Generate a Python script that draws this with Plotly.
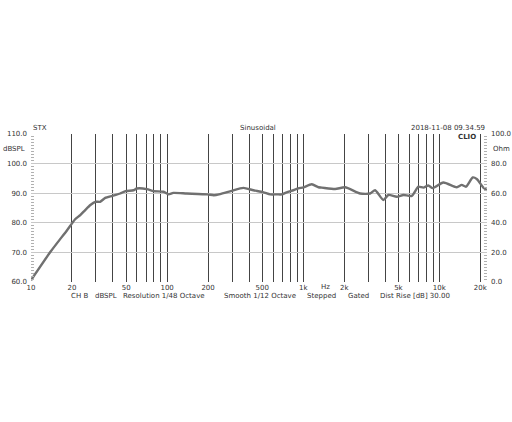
import numpy as np
import plotly.graph_objects as go

# frequency response
freq_hz = [10, 13.9, 18.4, 20, 21.1, 23.0, 25.0, 27.3, 29.7, 32.2, 35.1, 39.7,
           45.2, 49.5, 56.6, 59.9, 71, 79.4, 94.1, 102.5, 111, 139.5, 198, 220,
           245, 298, 363, 430, 510, 572, 640, 697, 756, 848, 920, 1004, 1155,
           1294, 1370, 1716, 2030, 2618, 3100, 3373, 3880, 4226, 4866, 5444,
           6270, 7014, 7633, 8303, 8944, 10700, 13420, 14600, 15700, 17580,
           18820, 21050, 22390]
spl_db = [60.6, 70.2, 77.5, 79.8, 81.2, 82.6, 84.3, 86.0, 87.1, 87.1, 88.4, 89.1,
          89.9, 90.7, 91.0, 91.6, 91.4, 90.7, 90.5, 89.6, 90.1, 89.9, 89.6, 89.3,
          89.7, 90.8, 91.8, 91.0, 90.3, 89.6, 89.6, 89.6, 90.3, 91.0, 91.6, 92.0,
          93.0, 92.0, 91.9, 91.4, 92.0, 89.9, 89.9, 91.0, 87.7, 89.4, 88.8, 89.4,
          89.1, 92.2, 91.9, 92.6, 91.7, 93.6, 92.0, 92.8, 92.2, 95.3, 94.8, 91.9,
          91.0]

grid_freqs = [m * d for d in (10, 100, 1000, 10000) for m in range(1, 10)]
grid_freqs = [f for f in grid_freqs if f <= 20000]
labels = {10: "10", 20: "20", 50: "50", 100: "100", 200: "200", 500: "500",
          1000: "1k", 2000: "2k", 5000: "5k", 10000: "10k", 20000: "20k"}
grid_text = [labels.get(f, "") for f in grid_freqs]

footer_items = ["CH B", "dBSPL", "Resolution 1/48 Octave", "Smooth 1/12 Octave",
                "Stepped", "Gated", "Dist Rise [dB] 30.00"]
footer_px = [69, 93, 121, 222, 305, 346, 378]

FONT = "DejaVu Sans"
FS = 7
TXT = "#333333"
# plot box in pixels
PL, PR, PT, PB = 31, 487, 134, 282
W, H = 512, 422

fig = go.Figure()
fig.add_trace(go.Scatter(x=freq_hz, y=spl_db, mode="lines",
                         line=dict(color="#707070", width=2.4, shape="spline", smoothing=0.6),
                         showlegend=False, hoverinfo="skip"))
fig.add_trace(go.Scatter(x=[], y=[], yaxis="y2", showlegend=False, hoverinfo="skip"))

fig.update_layout(
    width=W, height=H,
    margin=dict(l=PL, r=W - PR, t=PT, b=H - PB, pad=0),
    paper_bgcolor="white", plot_bgcolor="white",
    font=dict(family=FONT, size=FS, color=TXT),
    xaxis=dict(type="log", range=[1, np.log10(22390)], automargin=False,
               tickmode="array", tickvals=grid_freqs, ticktext=grid_text,
               showgrid=True, gridcolor="#444444", gridwidth=1,
               ticks="", showline=False, zeroline=False, ticklabelstandoff=0),
    yaxis=dict(range=[60, 110], dtick=10, tickformat=".1f", automargin=False,
               showgrid=True, gridcolor="#c8c8c8", gridwidth=1,
               ticks="", showline=False, zeroline=False, ticklabelstandoff=3,
               minor=dict(dtick=1, ticks="inside", ticklen=3, tickcolor="#b0b0b0",
                          showgrid=False)),
    yaxis2=dict(range=[0, 100], dtick=20, tickformat=".1f", overlaying="y",
                side="right", showgrid=False, ticks="", showline=False,
                zeroline=False, ticklabelstandoff=3, automargin=False,
                minor=dict(dtick=2, ticks="inside", ticklen=3, tickcolor="#b0b0b0",
                           showgrid=False)),
)

w = PR - PL
ann = [
    dict(text="STX", x=0, xanchor="left", y=1, yanchor="middle", yshift=6),
    dict(text="Sinusoidal", x=(257.5 - PL) / w, xanchor="center", y=1, yanchor="middle", yshift=6),
    dict(text="2018-11-08 09.34.59", x=1, xanchor="right", y=1, yanchor="middle", yshift=6),
    dict(text="<b>CLIO</b>", x=(478 - PL) / w, xanchor="right", y=1, yanchor="middle", yshift=-3),
    dict(text="dBSPL", x=(1 - PL) / w, xanchor="left", y=0.9, yanchor="middle"),
    dict(text="Ohm", x=(491 - PL) / w, xanchor="left", y=0.9, yanchor="middle"),
    dict(text="Hz", x=(325 - PL) / w, xanchor="center", y=0, yanchor="middle", yshift=-5),
]
for t, px in zip(footer_items, footer_px):
    ann.append(dict(text=t, x=(px - PL) / w, xanchor="left", y=0, yanchor="middle", yshift=-13.5))
for a in ann:
    a.update(xref="paper", yref="paper", showarrow=False, font=dict(family=FONT, size=FS, color=TXT))
fig.update_layout(annotations=ann)

# the page body has a default 8px margin; drop it so the figure fills the window
fig.write_html("out.html", config={"displayModeBar": False},
               post_script="document.body.style.margin='0';")
